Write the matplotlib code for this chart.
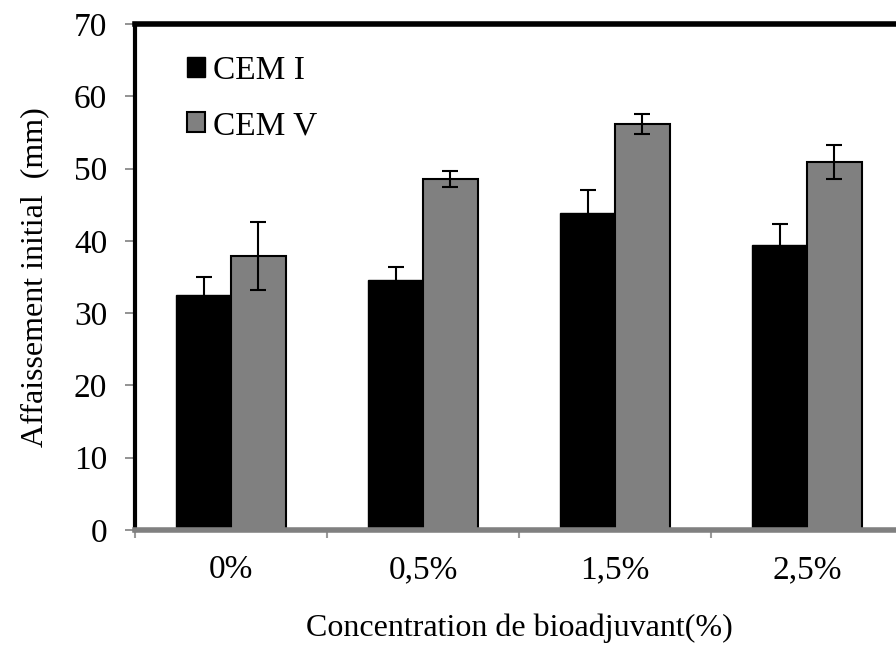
import numpy as np
import matplotlib.pyplot as plt
from matplotlib.ticker import FixedLocator

# donnees
categories = ["0%", "0,5%", "1,5%", "2,5%"]
cem1 = [32.5, 34.6, 43.8, 39.4]
cem1_err = [2.5, 1.8, 3.2, 2.9]
cem5 = [37.9, 48.6, 56.2, 50.9]
cem5_err = [4.7, 1.1, 1.4, 2.4]

plt.rcParams['font.family'] = ['Liberation Serif', 'DejaVu Serif']

fig = plt.figure(figsize=(8.96, 6.48), dpi=100)
# l'axe depasse legerement a droite, comme dans l'original
ax = fig.add_axes([135/896, 1 - 530/648, 768/896, 506/648])

x = np.arange(len(categories))
w = 0.286
ax.bar(x - w/2, cem1, w, color='black', edgecolor='black', linewidth=1,
       label='CEM I', zorder=2)
ax.bar(x + w/2, cem5, w, color='#808080', edgecolor='black', linewidth=1.5,
       label='CEM V', zorder=2)
ax.errorbar(x - w/2, cem1, yerr=cem1_err, fmt='none', ecolor='black',
            elinewidth=1.5, capsize=5.5, capthick=1.5, zorder=3)
ax.errorbar(x + w/2, cem5, yerr=cem5_err, fmt='none', ecolor='black',
            elinewidth=1.5, capsize=5.5, capthick=1.5, zorder=3)

ax.set_xlim(-0.5, len(categories) - 0.5)
ax.set_ylim(0, 70)
ax.set_yticks(range(0, 71, 10))
ax.set_xticks(x)
ax.set_xticklabels(categories)
ax.xaxis.set_minor_locator(FixedLocator(np.arange(-0.5, len(categories), 1.0)))

ax.tick_params(axis='y', direction='out', length=7, width=1.2, color='#808080',
               labelsize=24, pad=13)
ax.tick_params(axis='x', which='major', length=0, labelsize=24, pad=18)
ax.tick_params(axis='x', which='minor', direction='out', length=6, width=1.5,
               color='#9a9a9a')

ax.spines['left'].set_linewidth(3)
ax.spines['left'].set_color('black')
ax.spines['top'].set_linewidth(4)
ax.spines['top'].set_color('black')
ax.spines['bottom'].set_linewidth(4)
ax.spines['bottom'].set_color('#808080')
ax.spines['right'].set_visible(False)

ax.set_ylabel('Affaissement initial  (mm)', fontsize=23, labelpad=18)
ax.set_xlabel('Concentration de bioadjuvant(%)', fontsize=23, labelpad=20)

ax.legend(loc='upper left', bbox_to_anchor=(0.05, 0.965), frameon=False,
          fontsize=24, handlelength=0.55, handleheight=0.55, handletextpad=0.25,
          labelspacing=0.75, borderaxespad=0)

fig.savefig('out.png', dpi=100)
